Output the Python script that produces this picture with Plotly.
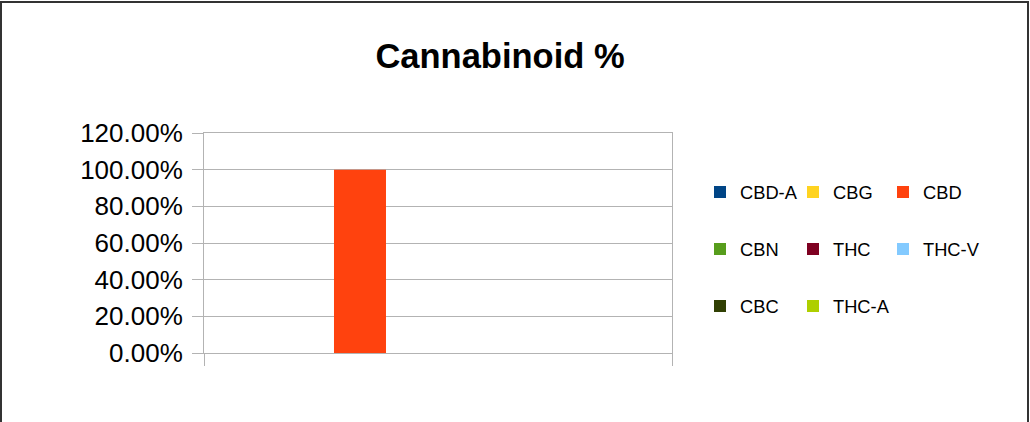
import plotly.graph_objects as go

categories = ["Sample"]
series_names = ["CBD-A", "CBG", "CBD", "CBN", "THC", "THC-V", "CBC", "THC-A"]
series_values = [0.0, 0.0, 1.0, 0.0, 0.0, 0.0, 0.0, 0.0]
series_colors = ["#004586", "#ffd320", "#ff420e", "#579d1c",
                 "#7e0021", "#83caff", "#314004", "#aecf00"]
y_ticks = [0, 0.2, 0.4, 0.6, 0.8, 1.0, 1.2]

W, H = 1030, 422
L, R, T, B = 204, 672, 133, 353
pw, ph = R - L, B - T

def px_x(x):
    return (x - L) / pw

def px_y(y):
    return (B - y) / ph

# legend grid: 3 columns x 3 rows (pixel anchors)
legend_cols = [700, 793, 883]
legend_rows_px = [192, 249, 306]

fig = go.Figure()
legend_layout = {}
for i, (name, val, col) in enumerate(zip(series_names, series_values, series_colors)):
    lg = "legend" if i == 0 else f"legend{i + 1}"
    fig.add_trace(go.Bar(x=categories, y=[val], name=name, marker_color=col,
                         marker_line_width=0, legend=lg))
    legend_layout[lg] = dict(
        x=px_x(legend_cols[i % 3]), y=px_y(legend_rows_px[i // 3]),
        xanchor="left", yanchor="middle", orientation="v",
        font=dict(family="Liberation Sans, Arial, sans-serif", size=18.3, color="#000"),
        itemwidth=30, bgcolor="rgba(0,0,0,0)")

gray = "#b3b3b3"
font = "Liberation Sans, Arial, sans-serif"

fig.update_layout(
    width=W, height=H,
    margin=dict(l=L, r=W - R, t=T, b=H - B, pad=0),
    paper_bgcolor="white", plot_bgcolor="white",
    barmode="group", bargap=0.111, bargroupgap=0,
    title=dict(text="Cannabinoid %", x=500 / W, xanchor="center", xref="container",
               y=1 - 56 / H, yanchor="middle", yref="container",
               font=dict(family=font, size=34.5, color="#000", weight="bold")),
    xaxis=dict(range=[-0.5, 0.5], showticklabels=False, tickson="boundaries",
               ticks="outside", ticklen=12, tickcolor=gray, tickwidth=1,
               showline=True, linecolor=gray, linewidth=1, mirror=True,
               showgrid=False, zeroline=False),
    yaxis=dict(range=[0, 1.2], tickvals=y_ticks, tickformat=".2%",
               ticks="outside", ticklen=11, tickcolor=gray, tickwidth=1,
               showline=True, linecolor=gray, linewidth=1, mirror=True,
               showgrid=True, gridcolor=gray, gridwidth=1, zeroline=False,
               ticklabelstandoff=4,
               tickfont=dict(family=font, size=26, color="#000")),
    showlegend=True,
    **legend_layout,
)

fig.add_shape(type="rect", xref="paper", yref="paper",
              x0=px_x(1), x1=px_x(1028), y0=px_y(440), y1=px_y(2),
              line=dict(color="#333333", width=2), fillcolor="rgba(0,0,0,0)", layer="above")

fig.write_html("out.html", config={"displayModeBar": False},
               post_script="document.body.style.margin='0';document.body.style.overflow='hidden';")
